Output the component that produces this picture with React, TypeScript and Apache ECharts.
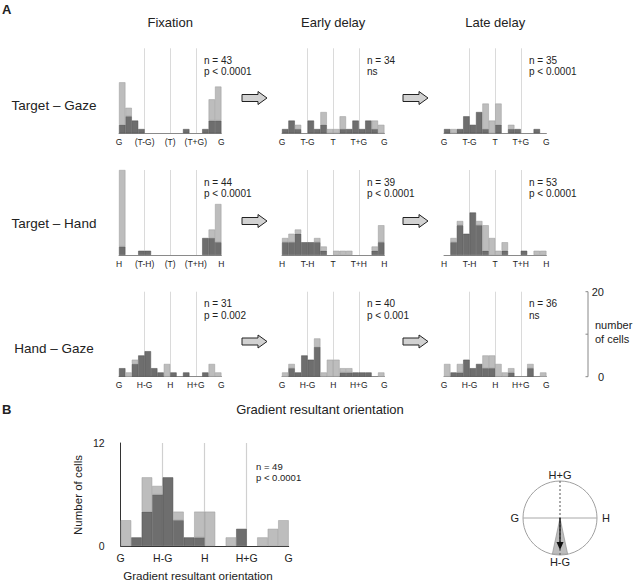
import React, { useEffect, useRef } from 'react';
import * as echarts from 'echarts';

const FONT = '"Liberation Sans", Arial, Helvetica, sans-serif';

// 16 orientation bins (22.5 deg each), from -180 to +180
const binCats = ['1','2','3','4','5','6','7','8','9','10','11','12','13','14','15','16'];

// tick labels
const tgFixTicks = ['G', '(T-G)', '(T)', '(T+G)', 'G'];
const tgTicks = ['G', 'T-G', 'T', 'T+G', 'G'];
const thFixTicks = ['H', '(T-H)', '(T)', '(T+H)', 'H'];
const thTicks = ['H', 'T-H', 'T', 'T+H', 'H'];
const hgTicks = ['G', 'H-G', 'H', 'H+G', 'G'];

// Row 1: Target - Gaze
const tgFixDark = [2, 4, 3, 1, 0, 0, 0, 0, 0, 0, 1, 0, 0, 1, 3, 3];
const tgFixLight = [10, 2, 0, 0, 0, 0, 0, 0, 0, 0, 0, 0, 0, 0, 5, 8];
const tgEarlyDark = [1, 3, 1, 0, 3, 1, 2, 0, 0, 1, 1, 3, 1, 3, 1, 0];
const tgEarlyLight = [0, 0, 1, 0, 0, 0, 3, 1, 1, 3, 0, 0, 0, 0, 2, 2];
const tgLateDark = [1, 0, 1, 4, 2, 5, 1, 0, 2, 0, 1, 1, 0, 0, 1, 0];
const tgLateLight = [0, 1, 0, 0, 0, 0, 6, 3, 5, 0, 1, 0, 0, 0, 0, 0];

// Row 2: Target - Hand
const thFixDark = [2, 0, 0, 1, 1, 0, 0, 0, 0, 0, 0, 0, 0, 4, 4, 3];
const thFixLight = [18, 0, 0, 0, 0, 0, 0, 0, 0, 0, 0, 0, 0, 0, 2, 9];
const thEarlyDark = [3, 3, 5, 3, 3, 3, 1, 0, 0, 0, 0, 0, 0, 0, 1, 3];
const thEarlyLight = [1, 2, 1, 0, 0, 1, 1, 0, 1, 1, 1, 0, 0, 0, 1, 4];
const thLateDark = [0, 3, 7, 5, 10, 7, 1, 0, 0, 1, 0, 0, 1, 0, 0, 0];
const thLateLight = [0, 1, 1, 0, 0, 1, 6, 4, 1, 2, 0, 0, 0, 0, 1, 1];

// Row 3: Hand - Gaze
const hgFixDark = [2, 0, 3, 5, 6, 2, 1, 0, 1, 0, 1, 0, 0, 1, 0, 0];
const hgFixLight = [0, 1, 1, 0, 0, 0, 0, 3, 0, 0, 0, 0, 0, 0, 3, 1];
const hgEarlyDark = [0, 2, 1, 5, 4, 7, 0, 0, 0, 1, 1, 1, 1, 1, 0, 0];
const hgEarlyLight = [1, 1, 0, 0, 0, 2, 1, 4, 4, 1, 1, 0, 0, 0, 0, 1];
const hgLateDark = [0, 1, 1, 4, 2, 3, 2, 2, 0, 0, 1, 0, 0, 2, 0, 0];
const hgLateLight = [3, 0, 2, 0, 0, 0, 3, 3, 3, 1, 1, 0, 0, 1, 0, 1];

// Panel B: Hand - Gaze
const bDark = [0, 1, 4, 6, 8, 3, 1, 1, 0, 0, 0, 2, 0, 0, 0, 0];
const bLight = [3, 0, 4, 1, 0, 1, 0, 3, 4, 0, 1, 0, 0, 1, 2, 3];

const colTitles = ['Fixation', 'Early delay', 'Late delay'];
const rowTitles = ['Target \u2013 Gaze', 'Target \u2013 Hand', 'Hand \u2013 Gaze'];

const panelStats = [
  ['n = 43', 'p < 0.0001'], ['n = 34', 'ns'], ['n = 35', 'p < 0.0001'],
  ['n = 44', 'p < 0.0001'], ['n = 39', 'p < 0.0001'], ['n = 53', 'p < 0.0001'],
  ['n = 31', 'p = 0.002'], ['n = 40', 'p < 0.001'], ['n = 36', 'ns'],
];
const panelData = [
  [tgFixDark, tgFixLight, tgFixTicks], [tgEarlyDark, tgEarlyLight, tgTicks], [tgLateDark, tgLateLight, tgTicks],
  [thFixDark, thFixLight, thFixTicks], [thEarlyDark, thEarlyLight, thTicks], [thLateDark, thLateLight, thTicks],
  [hgFixDark, hgFixLight, hgTicks], [hgEarlyDark, hgEarlyLight, hgTicks], [hgLateDark, hgLateLight, hgTicks],
];

const DARK = '#6e6e6e';
const LIGHT = '#bdbdbd';

const colLeft = [119, 282, 444];
const rowBase = [133.3, 255, 376.7];
const PW = 102.4;
const PH = 85;

export default function App() {
  const ref = useRef<HTMLDivElement>(null);
  useEffect(() => {
    const chart = echarts.init(ref.current!, null, { renderer: 'svg' });
    const grid: any[] = [];
    const xAxis: any[] = [];
    const yAxis: any[] = [];
    const series: any[] = [];
    const graphic: any[] = [];

    const nz = (a: number[]) => a.map((v) => (v === 0 ? '-' : v));

    const addPanel = (idx: number, left: number, top: number, width: number, height: number,
      dark: number[], light: number[], ticks: string[], ymax: number, big: boolean) => {
      grid.push({ left, top, width, height, containLabel: false });
      xAxis.push({
        type: 'category', gridIndex: idx, data: binCats, position: 'bottom', boundaryGap: true,
        axisLine: { show: true, onZero: false, lineStyle: { color: big ? '#333' : '#8a8a8a', width: 1 } },
        axisTick: { show: false }, axisLabel: { show: false }, splitLine: { show: false },
      });
      xAxis.push({
        type: 'value', gridIndex: idx, min: 0, max: 16, interval: 4, position: 'bottom',
        axisLine: { show: false }, axisTick: { show: false },
        axisLabel: {
          show: true, fontSize: big ? 10.5 : 8.5, color: '#222', fontFamily: FONT, margin: big ? 6 : 4,
          showMinLabel: true, showMaxLabel: true,
          formatter: (v: number) => ticks[Math.round(v / 4)] ?? '',
        },
        splitLine: {
          show: true, showMinLine: false, showMaxLine: false,
          lineStyle: { color: big ? '#d0d0d0' : '#cacaca', width: big ? 1.2 : 0.7 },
        },
      });
      yAxis.push(big ? {
        type: 'value', gridIndex: idx, min: 0, max: ymax, interval: ymax, position: 'left', offset: 11,
        axisLine: { show: true, lineStyle: { color: '#333', width: 1 } },
        axisTick: { show: false },
        axisLabel: { show: true, fontSize: 10.5, color: '#222', fontFamily: FONT, margin: 5 },
        splitLine: { show: false },
      } : {
        type: 'value', gridIndex: idx, min: 0, max: ymax, show: false, splitLine: { show: false },
      });
      series.push({
        type: 'bar', xAxisIndex: 2 * idx, yAxisIndex: idx, stack: 's' + idx, data: nz(dark),
        barWidth: '100%', barCategoryGap: '0%',
        itemStyle: { color: DARK, borderColor: '#4f4f4f', borderWidth: 0.5 },
      });
      series.push({
        type: 'bar', xAxisIndex: 2 * idx, yAxisIndex: idx, stack: 's' + idx, data: nz(light),
        barWidth: '100%', barCategoryGap: '0%',
        itemStyle: { color: LIGHT, borderColor: '#9a9a9a', borderWidth: 0.5 },
      });
    };

    const txt = (x: number, y: number, text: string, size: number, align = 'left', extra: any = {}) => ({
      type: 'text', x, y, silent: true,
      style: { text, fontSize: size, fontFamily: FONT, fill: '#222', align, verticalAlign: 'middle', ...extra },
    });

    panelData.forEach((p, i) => {
      const r = Math.floor(i / 3);
      const c = i % 3;
      const left = colLeft[c];
      const top = rowBase[r] - PH;
      addPanel(i, left, top, PW, PH, p[0] as number[], p[1] as number[], p[2] as string[], 20, false);
      graphic.push(txt(left + 85, rowBase[r] - 73, panelStats[i][0], 10));
      graphic.push(txt(left + 85, rowBase[r] - 61.5, panelStats[i][1], 10));
    });

    // Panel B
    addPanel(9, 120.7, 443, 168, 103, bDark, bLight, hgTicks, 12, true);

    // Column & row titles
    colTitles.forEach((t, c) => graphic.push(txt(colLeft[c] + PW / 2, 22, t, 13, 'center')));
    rowTitles.forEach((t, r) => graphic.push(txt(54, [105, 223, 348][r], t, 13.5, 'center')));

    // panel letters
    graphic.push(txt(2, 9, 'A', 13, 'left', { fontWeight: 'bold' }));
    graphic.push(txt(2, 409, 'B', 13, 'left', { fontWeight: 'bold' }));

    graphic.push(txt(320, 409, 'Gradient resultant orientation', 13, 'center'));

    // arrows
    const arrowYs = [98, 221, 341.5];
    const arrowXs = [242, 403];
    arrowYs.forEach((cy) => arrowXs.forEach((x0) => {
      graphic.push({
        type: 'polygon', silent: true,
        shape: { points: [[x0, cy - 3.5], [x0 + 16, cy - 3.5], [x0 + 16, cy - 6.5], [x0 + 25, cy], [x0 + 16, cy + 6.5], [x0 + 16, cy + 3.5], [x0, cy + 3.5]] },
        style: { fill: '#d2d2d2', stroke: '#222', lineWidth: 1 },
      });
    }));

    // scale bar
    const sbx = 588;
    graphic.push({ type: 'line', silent: true, shape: { x1: sbx, y1: 291.7, x2: sbx, y2: 376.7 }, style: { stroke: '#888', lineWidth: 1 } });
    [291.7, 334.2, 376.7].forEach((y) => graphic.push({ type: 'line', silent: true, shape: { x1: sbx - 2.5, y1: y, x2: sbx, y2: y }, style: { stroke: '#888', lineWidth: 1 } }));
    graphic.push(txt(604, 292, '20', 11, 'right'));
    graphic.push(txt(604, 377, '0', 11, 'right'));
    graphic.push(txt(595, 325, 'number', 11));
    graphic.push(txt(595, 338.5, 'of cells', 11));

    // Panel B texts
    graphic.push({
      type: 'text', x: 78, y: 495, rotation: Math.PI / 2, silent: true,
      style: { text: 'Number of cells', fontSize: 11.5, fontFamily: FONT, fill: '#222', align: 'center', verticalAlign: 'middle' },
    });
    graphic.push(txt(256, 466, 'n = 49', 9.5));
    graphic.push(txt(256, 477, 'p < 0.0001', 9.5));
    graphic.push(txt(198, 575, 'Gradient resultant orientation', 11.6, 'center'));

    // circle diagram
    const cx = 560, cy = 518, R = 37;
    const a = (12 * Math.PI) / 180;
    graphic.push({
      type: 'polygon', silent: true,
      shape: { points: [[cx, cy], [cx - R * Math.sin(a), cy + R * Math.cos(a)], [cx + R * Math.sin(a), cy + R * Math.cos(a)]] },
      style: { fill: '#bdbdbd', stroke: '#888', lineWidth: 0.6 },
    });
    graphic.push({ type: 'circle', silent: true, shape: { cx, cy, r: R }, style: { fill: 'none', stroke: '#a0a0a0', lineWidth: 1 } });
    graphic.push({ type: 'line', silent: true, shape: { x1: cx - R, y1: cy, x2: cx + R, y2: cy }, style: { stroke: '#a8a8a8', lineWidth: 1 } });
    graphic.push({ type: 'line', silent: true, shape: { x1: cx, y1: cy - R, x2: cx, y2: cy + R }, style: { stroke: '#555', lineWidth: 1, lineDash: [2, 2] } });
    graphic.push({ type: 'line', silent: true, shape: { x1: cx, y1: cy, x2: cx, y2: cy + 26 }, style: { stroke: '#111', lineWidth: 1.3 } });
    graphic.push({ type: 'polygon', silent: true, shape: { points: [[cx - 3.5, cy + 24], [cx + 3.5, cy + 24], [cx, cy + 32]] }, style: { fill: '#111' } });
    graphic.push(txt(cx, cy - R - 6, 'H+G', 11, 'center'));
    graphic.push(txt(cx, cy + R + 7, 'H-G', 11, 'center'));
    graphic.push(txt(cx - R - 4, cy, 'G', 11, 'right'));
    graphic.push(txt(cx + R + 5, cy, 'H', 11, 'left'));

    chart.setOption({ animation: false, grid, xAxis, yAxis, series, graphic });
    return () => chart.dispose();
  }, []);
  return <div ref={ref} style={{ position: 'absolute', left: 0, top: 0, width: 640, height: 582 }} />;
}
